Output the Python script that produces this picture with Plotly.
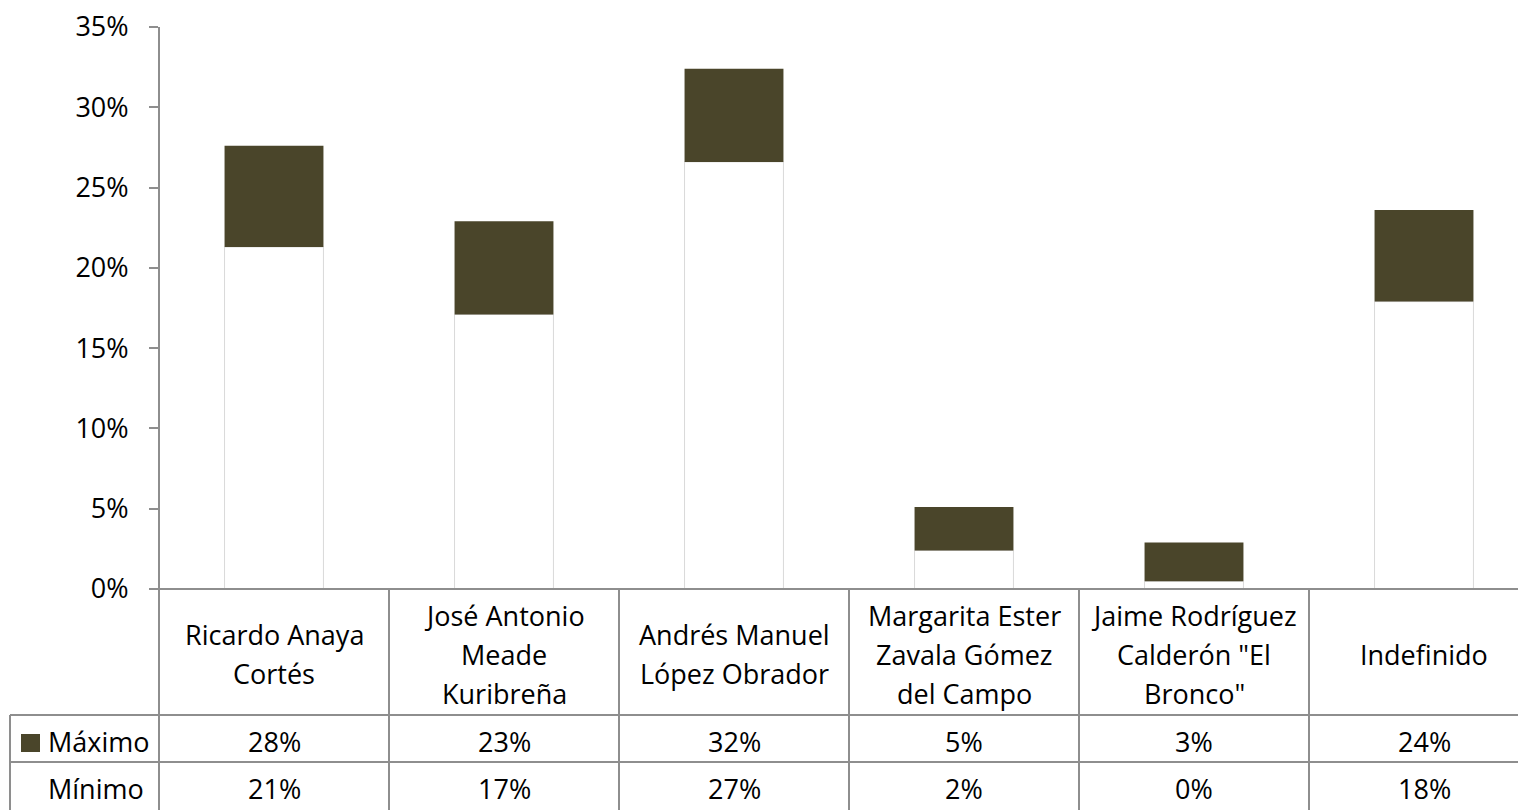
import plotly.graph_objects as go

# Candidates (line breaks as shown in the table header)
categories = [
    "Ricardo Anaya|Cortés",
    "José Antonio|Meade|Kuribreña",
    "Andrés Manuel|López Obrador",
    "Margarita Ester|Zavala Gómez|del Campo",
    "Jaime Rodríguez|Calderón \"El|Bronco\"",
    "Indefinido",
]
maximo = [27.6, 22.9, 32.4, 5.1, 2.9, 23.6]
minimo = [21.3, 17.1, 26.6, 2.4, 0.48, 17.9]
y_ticks = [0, 5, 10, 15, 20, 25, 30, 35]

BROWN = "#4A452A"
GRID = "#8E8E8E"
FONT = "Open Sans"
FS = 27

W, H = 1518, 810
L, T, B = 159, 27, 221
PLOT_W = W - L
PLOT_H = H - T - B
SLOT = 230.0  # pixels per category

x = list(range(len(categories)))
span = [mx - mn for mx, mn in zip(maximo, minimo)]

fig = go.Figure()
fig.add_trace(go.Bar(
    x=x, y=minimo, name="Mínimo", width=0.43,
    marker=dict(color="white", line=dict(color="#D9D9D9", width=1)),
    hoverinfo="skip",
))
fig.add_trace(go.Bar(
    x=x, y=span, base=minimo, name="Máximo", width=0.43,
    marker=dict(color=BROWN, line=dict(width=0)),
    hoverinfo="skip",
))


def py(pix):
    """pixel row -> paper y"""
    return (H - B - pix) / PLOT_H


def px(pix):
    """pixel column -> paper x"""
    return (pix - L) / PLOT_W


shapes = []
line = dict(color=GRID, width=2)
# vertical axis line running down through the table
shapes.append(dict(type="line", xref="paper", yref="paper", x0=0, x1=0,
                   y0=1, y1=py(H), line=line, layer="above"))
# horizontal rules of the table
shapes.append(dict(type="line", xref="paper", yref="paper", x0=px(150), x1=1,
                   y0=0, y1=0, line=line, layer="above"))
for r in (715, 762):
    shapes.append(dict(type="line", xref="paper", yref="paper", x0=px(10), x1=1,
                       y0=py(r), y1=py(r), line=line, layer="above"))
# left edge of the row-label cells
shapes.append(dict(type="line", xref="paper", yref="paper", x0=px(10), x1=px(10),
                   y0=py(715), y1=py(H), line=line, layer="above"))
# column separators
for i in range(len(categories) - 1):
    shapes.append(dict(type="line", xref="x", yref="paper", x0=i + 0.5, x1=i + 0.5,
                       y0=0, y1=py(H), line=line, layer="above"))
# legend key in the Máximo row
shapes.append(dict(type="rect", xref="paper", yref="paper", x0=px(21), x1=px(40),
                   y0=py(752), y1=py(734), fillcolor=BROWN, line=dict(width=0)))

annotations = []
txt = dict(family=FONT, size=FS, color="black")
LINE_H = 39
for i, cat in enumerate(categories):
    lines = cat.split("|")
    n = len(lines)
    for k, ln in enumerate(lines):
        yc = 654 + (k - (n - 1) / 2) * LINE_H
        annotations.append(dict(xref="x", yref="paper", x=i, y=py(yc), text=ln,
                                showarrow=False, xanchor="center", yanchor="middle",
                                font=txt))
    annotations.append(dict(xref="x", yref="paper", x=i, y=py(741),
                            text=f"{maximo[i]:.0f}%", showarrow=False,
                            xanchor="center", yanchor="middle", font=txt))
    annotations.append(dict(xref="x", yref="paper", x=i, y=py(788),
                            text=f"{minimo[i]:.0f}%", showarrow=False,
                            xanchor="center", yanchor="middle", font=txt))
annotations.append(dict(xref="paper", yref="paper", x=px(46), y=py(741), text="Máximo",
                        showarrow=False, xanchor="left", yanchor="middle", font=txt))
annotations.append(dict(xref="paper", yref="paper", x=px(46), y=py(788), text="Mínimo",
                        showarrow=False, xanchor="left", yanchor="middle", font=txt))

fig.update_layout(
    width=W, height=H,
    margin=dict(l=L, r=0, t=T, b=B, autoexpand=False),
    paper_bgcolor="white", plot_bgcolor="white",
    barmode="overlay",
    showlegend=False,
    shapes=shapes,
    annotations=annotations,
    font=dict(family=FONT, size=FS, color="black"),
    xaxis=dict(range=[-0.5, -0.5 + PLOT_W / SLOT], showticklabels=False,
               showgrid=False, zeroline=False, showline=False, ticks=""),
    yaxis=dict(range=[0, 35], tickvals=y_ticks, ticktext=[f"{v}%" for v in y_ticks],
               showgrid=False, zeroline=False, showline=False,
               ticks="outside", ticklen=9, tickwidth=2, tickcolor=GRID,
               ticklabelstandoff=15,
               tickfont=dict(family=FONT, size=FS, color="black")),
)

fig.write_html("out.html")
